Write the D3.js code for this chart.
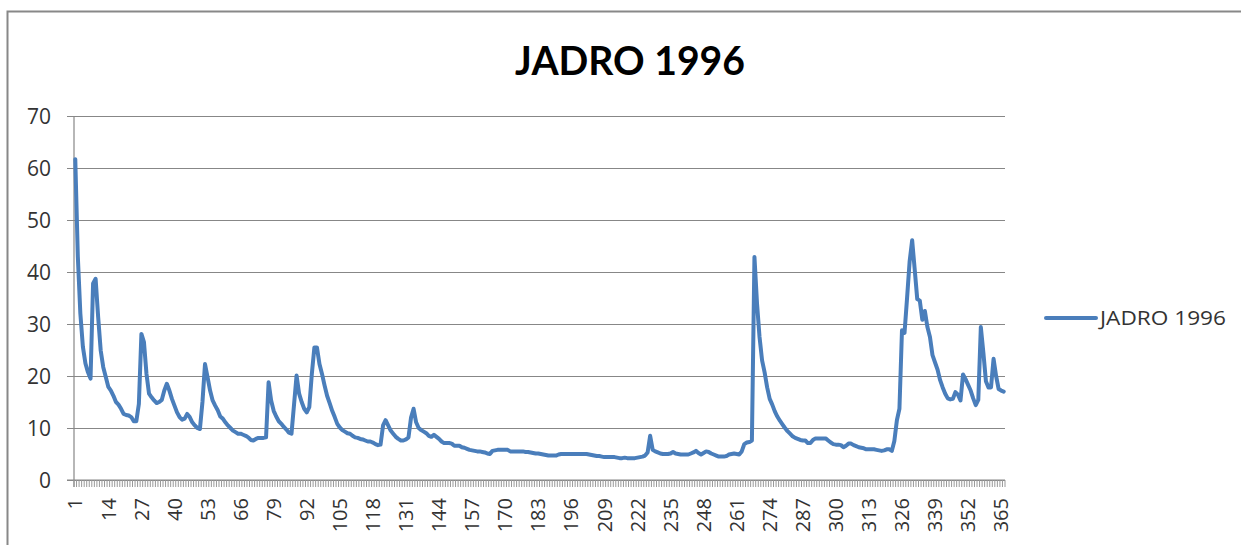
<!DOCTYPE html>
<html>
<head>
<meta charset="utf-8">
<script src="https://cdn.jsdelivr.net/npm/d3@7"></script>
<style>
  body { margin: 0; background: #fff; }
  svg { display: block; font-family: "Open Sans", "DejaVu Sans", sans-serif; }
  .grid line { stroke: #878787; stroke-width: 1.2; }
  .axis-text { fill: #333; font-size: 20px; }
</style>
</head>
<body>
<svg id="chart" width="1241" height="545"></svg>
<script>
const seriesName = "JADRO 1996";
const title = "JADRO 1996";

// daily flow, 366 days (1996)
const flow = [
  61.7, 43, 32, 25.6, 22.4, 20.7, 19.5, 37.8, 38.7, 31.3,
  24.9, 21.7, 19.8, 17.9, 17.2, 16.2, 15, 14.5, 13.7, 12.7,
  12.5, 12.4, 12.1, 11.3, 11.3, 14.6, 28.1, 26.5, 20.4, 16.6,
  15.9, 15.3, 14.8, 15, 15.4, 17.2, 18.5, 17.2, 15.6, 14.3,
  13, 12.1, 11.6, 11.8, 12.7, 12.1, 11.1, 10.5, 10, 9.8,
  15, 22.3, 19.8, 17.2, 15.3, 14.3, 13.4, 12.2, 11.8, 11.1,
  10.5, 10, 9.5, 9.2, 8.9, 8.9, 8.7, 8.5, 8.2, 7.7,
  7.6, 7.9, 8.1, 8.1, 8.1, 8.2, 18.8, 15.3, 13.3, 12.2,
  11.3, 10.8, 10.2, 9.7, 9.1, 8.9, 14.5, 20.1, 16.6, 15,
  13.7, 13, 14, 20.4, 25.5, 25.5, 22.3, 20.4, 18.2, 16.2,
  14.8, 13.3, 12.1, 10.8, 10.1, 9.6, 9.3, 9, 8.9, 8.5,
  8.2, 8.1, 7.9, 7.8, 7.6, 7.4, 7.4, 7.2, 6.9, 6.7,
  6.8, 10.5, 11.5, 10.5, 9.5, 8.9, 8.3, 7.9, 7.6, 7.6,
  7.8, 8.2, 12, 13.7, 11.1, 10, 9.6, 9.3, 9, 8.5,
  8.3, 8.7, 8.3, 7.9, 7.4, 7.1, 7.1, 7.1, 7.0, 6.6,
  6.6, 6.6, 6.3, 6.2, 6.0, 5.8, 5.7, 5.6, 5.5, 5.5,
  5.4, 5.3, 5.1, 5.0, 5.6, 5.7, 5.8, 5.8, 5.8, 5.8,
  5.8, 5.5, 5.5, 5.5, 5.5, 5.5, 5.5, 5.4, 5.4, 5.3,
  5.2, 5.1, 5.1, 5.0, 4.9, 4.8, 4.7, 4.7, 4.7, 4.7,
  4.9, 5.0, 5.0, 5.0, 5.0, 5.0, 5.0, 5.0, 5.0, 5.0,
  5.0, 5.0, 4.9, 4.8, 4.7, 4.6, 4.6, 4.5, 4.4, 4.4,
  4.4, 4.4, 4.4, 4.3, 4.2, 4.2, 4.3, 4.2, 4.2, 4.2,
  4.2, 4.3, 4.4, 4.5, 4.7, 5.3, 8.5, 5.8, 5.5, 5.3,
  5.1, 5.0, 5.0, 5.0, 5.1, 5.4, 5.1, 5.0, 4.9, 4.9,
  4.9, 4.9, 5.1, 5.3, 5.6, 5.2, 4.9, 5.2, 5.5, 5.4,
  5.1, 4.9, 4.7, 4.5, 4.5, 4.5, 4.6, 4.9, 5.0, 5.1,
  5.0, 4.9, 5.5, 6.9, 7.2, 7.3, 7.6, 42.9, 34, 27.5,
  23, 20.7, 17.8, 15.6, 14.5, 13.2, 12.2, 11.4, 10.7, 10,
  9.4, 8.9, 8.4, 8.1, 7.9, 7.7, 7.6, 7.6, 7.1, 7.1,
  7.7, 8.0, 8.0, 8.0, 8.0, 8.0, 7.6, 7.2, 6.9, 6.8,
  6.8, 6.7, 6.3, 6.6, 7.0, 7.0, 6.7, 6.5, 6.3, 6.2,
  6.1, 5.9, 5.9, 5.9, 5.9, 5.8, 5.7, 5.6, 5.7, 5.9,
  5.9, 5.6, 7.5, 11.5, 13.7, 28.8, 28.3, 35, 42, 46.1,
  40.5, 34.8, 34.5, 30.8, 32.5, 29.4, 27.5, 24, 22.6, 21.2,
  19.2, 17.8, 16.6, 15.7, 15.5, 15.6, 16.9, 16.4, 15.3, 20.3,
  19.4, 18.3, 17.2, 15.7, 14.4, 15.4, 29.4, 24.5, 19, 17.8,
  17.8, 23.3, 20, 17.5, 17.2, 17.0
];

const days = flow.map((v, i) => i + 1);
const xTickLabels = [1, 14, 27, 40, 53, 66, 79, 92, 105, 118, 131, 144, 157, 170, 183,
  196, 209, 222, 235, 248, 261, 274, 287, 300, 313, 326, 339, 352, 365];
const yTicks = [0, 10, 20, 30, 40, 50, 60, 70];

const svg = d3.select("#chart");
const margin = { top: 116, right: 236, bottom: 65, left: 74 };
const width = 1241, height = 545;

// outer chart frame
svg.append("rect")
  .attr("x", 7.5).attr("y", 11.5)
  .attr("width", 1260).attr("height", 560)
  .attr("fill", "#fff").attr("stroke", "#888").attr("stroke-width", 2);

const x = d3.scaleBand()
  .domain(days)
  .range([margin.left, width - margin.right])
  .paddingInner(0).paddingOuter(0);

const y = d3.scaleLinear()
  .domain([0, 70])
  .range([height - margin.bottom, margin.top]);

// horizontal gridlines + left ticks
svg.append("g")
  .attr("class", "grid")
  .attr("transform", `translate(${margin.left},0)`)
  .call(d3.axisLeft(y).tickValues(yTicks).tickSize(-(width - margin.right - margin.left)).tickSizeOuter(0).tickFormat(""))
  .call(g => g.select(".domain").remove())
  .call(g => g.selectAll(".tick line").attr("x1", -7));

// y labels
svg.append("g")
  .selectAll("text")
  .data(yTicks)
  .join("text")
  .attr("class", "axis-text")
  .style("font-size", "21px")
  .attr("x", 51)
  .attr("y", d => y(d))
  .attr("dy", "0.36em")
  .attr("text-anchor", "end")
  .text(d => d);

// y axis line
svg.append("line")
  .attr("x1", margin.left).attr("x2", margin.left)
  .attr("y1", y(70)).attr("y2", y(0) + 7)
  .attr("stroke", "#878787").attr("stroke-width", 1.2);

// x axis: minor ticks between categories
const xAxis = svg.append("g").attr("transform", `translate(0,${y(0)})`);
xAxis.append("line")
  .attr("x1", margin.left - 7).attr("x2", width - margin.right)
  .attr("stroke", "#878787").attr("stroke-width", 1.2);
xAxis.selectAll("line.minor")
  .data(days.concat([days.length + 1]))
  .join("line")
  .attr("class", "minor")
  .attr("x1", d => d <= days.length ? x(d) : x(days.length) + x.bandwidth())
  .attr("x2", d => d <= days.length ? x(d) : x(days.length) + x.bandwidth())
  .attr("y1", 0).attr("y2", 7)
  .attr("stroke", "#999").attr("stroke-width", 1);

xAxis.selectAll("text")
  .data(xTickLabels)
  .join("text")
  .attr("class", "axis-text")
  .attr("transform", d => `translate(${x(d) + x.bandwidth() / 2},18) rotate(-90)`)
  .attr("dy", "0.36em")
  .attr("text-anchor", "end")
  .text(d => d);

// series line
const line = d3.line()
  .x((d, i) => x(days[i]) + x.bandwidth() / 2)
  .y(d => y(d));

svg.append("path")
  .datum(flow)
  .attr("fill", "none")
  .attr("stroke", "#4a7ebb")
  .attr("stroke-width", 4)
  .attr("stroke-linejoin", "round")
  .attr("stroke-linecap", "round")
  .attr("d", line);

// title
svg.append("text")
  .attr("x", 630).attr("y", 75)
  .attr("text-anchor", "middle")
  .attr("font-family", "Lato, 'Open Sans', sans-serif")
  .attr("font-weight", "bold")
  .attr("font-size", 40)
  .attr("textLength", 230)
  .attr("lengthAdjust", "spacingAndGlyphs")
  .attr("fill", "#000")
  .text(title);

// legend
svg.append("line")
  .attr("x1", 1046).attr("x2", 1096)
  .attr("y1", 318).attr("y2", 318)
  .attr("stroke", "#4a7ebb").attr("stroke-width", 4)
  .attr("stroke-linecap", "round");

svg.append("text")
  .attr("class", "axis-text")
  .attr("x", 1100).attr("y", 318)
  .attr("dy", "0.36em")
  .attr("textLength", 126)
  .attr("lengthAdjust", "spacingAndGlyphs")
  .text(seriesName);
</script>
</body>
</html>
